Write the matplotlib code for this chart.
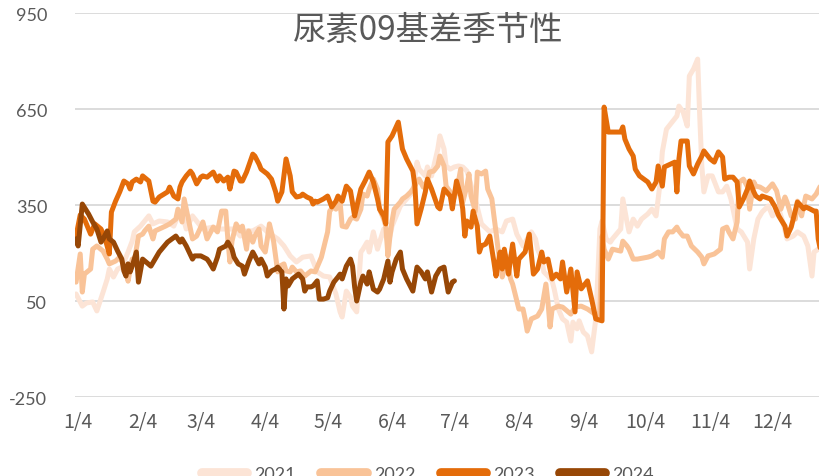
import datetime as dt
import matplotlib
matplotlib.use('agg')
import matplotlib.pyplot as plt

plt.rcParams['axes.unicode_minus'] = False

# days are day-of-year, values are the basis (yuan/t)
days_2021 = [3, 6, 8, 11, 13, 16, 18, 19, 21, 23, 25, 28, 30, 31, 34, 36, 38, 40, 43, 47,
             50, 52, 54, 56, 59, 64, 69, 72, 76, 79, 82, 85, 88, 92, 95, 100, 103, 106, 109, 112,
             116, 119, 122, 125, 128, 130, 131, 133, 135, 136, 138, 140, 141, 143, 144, 146, 148, 149, 151, 153,
             154, 155, 157, 159, 162, 165, 167, 168, 171, 172, 174, 177, 178, 180, 181, 183, 185, 187, 189, 191,
             195, 198, 202, 205, 208, 210, 213, 215, 218, 220, 222, 224, 225, 227, 228, 230, 232, 233, 235, 237,
             239, 241, 242, 244, 245, 247, 249, 251, 253, 255, 256, 258, 260, 261, 265, 266, 268, 269, 271, 273,
             275, 278, 280, 282, 284, 285, 287, 292, 293, 295, 297, 298, 300, 302, 303, 304, 305, 307, 309, 312,
             314, 316, 318, 321, 323, 326, 327, 329, 331, 333, 336, 338, 341, 343, 345, 348, 350, 353, 355, 357,
             358, 360, 361]
vals_2021 = [72, 34, 44, 47, 19, 78, 119, 150, 125, 150, 156, 203, 237, 266, 284, 300, 316, 291, 300, 297,
             284, 316, 322, 275, 316, 275, 281, 275, 275, 275, 253, 269, 269, 284, 266, 244, 222, 191, 172, 187,
             191, 141, 128, 125, 72, 16, 0, 81, 62, 34, 16, 203, 212, 234, 203, 266, 212, 234, 275, 234,
             253, 284, 316, 347, 369, 391, 484, 462, 441, 469, 441, 525, 566, 525, 472, 462, 469, 472, 469, 456,
             369, 291, 266, 275, 266, 300, 306, 259, 222, 244, 266, 244, 212, 181, 141, 128, 112, 87, 25, -6,
             -16, -75, -16, -37, -12, -47, -59, -109, -6, 275, 300, 244, 234, 244, 275, 369, 297, 266, 306, 284,
             306, 322, 337, 316, 422, 516, 587, 628, 659, 641, 597, 753, 775, 806, 628, 472, 391, 441, 441, 391,
             391, 409, 369, 275, 266, 234, 150, 244, 306, 328, 347, 316, 337, 297, 244, 253, 266, 253, 222, 128,
             203, 212, 219]

days_2022 = [3, 5, 6, 7, 10, 11, 13, 16, 18, 19, 22, 24, 27, 28, 30, 31, 33, 35, 36, 38,
             40, 41, 43, 46, 48, 51, 52, 54, 55, 57, 59, 61, 63, 64, 66, 69, 71, 73, 75, 76,
             77, 78, 80, 82, 83, 85, 86, 88, 89, 91, 92, 94, 95, 96, 98, 100, 101, 103, 104, 106,
             107, 109, 111, 113, 116, 118, 121, 124, 125, 127, 128, 130, 131, 133, 135, 136, 138, 140, 141, 143,
             144, 146, 148, 149, 151, 152, 153, 154, 155, 156, 159, 160, 162, 164, 165, 167, 168, 170, 172, 173,
             175, 177, 178, 180, 181, 183, 184, 186, 188, 189, 191, 192, 193, 195, 196, 198, 200, 201, 203, 204,
             205, 206, 208, 209, 210, 212, 213, 216, 218, 219, 220, 222, 225, 227, 229, 230, 231, 232, 235, 237,
             241, 243, 246, 249, 251, 254, 255, 256, 257, 259, 261, 265, 266, 268, 269, 271, 273, 278, 280, 283,
             285, 286, 288, 290, 292, 293, 295, 297, 299, 302, 304, 305, 307, 310, 313, 314, 316, 317, 319, 321,
             322, 324, 326, 327, 329, 330, 332, 335, 338, 340, 342, 344, 345, 347, 349, 350, 352, 354, 357, 359,
             361]
vals_2022 = [109, 197, 78, 134, 150, 212, 222, 206, 181, 166, 175, 187, 150, 112, 181, 172, 253, 259, 269, 284,
             244, 269, 275, 284, 291, 306, 337, 297, 369, 306, 244, 253, 281, 297, 244, 281, 266, 331, 331, 244,
             172, 237, 291, 269, 284, 212, 269, 234, 253, 275, 222, 203, 244, 291, 237, 141, 159, 166, 144, 141,
             156, 141, 144, 128, 144, 141, 187, 266, 331, 347, 337, 359, 284, 281, 306, 312, 306, 337, 384, 378,
             400, 431, 400, 337, 306, 284, 191, 253, 300, 337, 359, 369, 378, 391, 400, 422, 431, 406, 425, 453,
             456, 472, 503, 472, 409, 391, 359, 391, 462, 359, 409, 447, 378, 331, 453, 447, 456, 400, 369, 316,
             266, 212, 125, 150, 191, 119, 103, 25, 25, -6, -44, -6, 3, 25, 103, 47, -31, 25, 34, 31,
             9, 31, 34, 25, 16, 3, 19, 253, 212, 181, 212, 206, 237, 222, 212, 181, 181, 187, 191, 203,
             187, 244, 266, 266, 281, 269, 253, 253, 222, 203, 187, 166, 191, 197, 212, 275, 281, 266, 244, 297,
             422, 431, 406, 337, 422, 409, 406, 394, 416, 394, 337, 375, 359, 316, 306, 362, 316, 378, 369, 384,
             409]

days_2023 = [3, 5, 7, 10, 12, 15, 17, 19, 20, 22, 24, 26, 28, 29, 30, 32, 34, 35, 38, 40,
             41, 43, 47, 48, 50, 52, 53, 54, 56, 58, 59, 61, 63, 64, 66, 69, 71, 72, 74, 76,
             77, 79, 80, 82, 83, 85, 88, 89, 91, 92, 95, 97, 99, 100, 102, 104, 106, 107, 109, 111,
             112, 114, 116, 117, 118, 119, 122, 124, 126, 128, 129, 131, 133, 135, 137, 140, 142, 144, 146, 148,
             149, 151, 152, 153, 155, 158, 160, 162, 165, 166, 167, 169, 171, 172, 174, 177, 178, 180, 183, 184,
             186, 188, 189, 190, 191, 193, 194, 196, 197, 198, 200, 202, 204, 205, 207, 208, 209, 211, 213, 215,
             216, 219, 221, 223, 225, 227, 228, 230, 232, 234, 236, 237, 239, 241, 243, 244, 246, 249, 251, 253,
             256, 257, 259, 265, 266, 267, 269, 271, 272, 274, 278, 280, 282, 283, 285, 286, 289, 291, 292, 293,
             294, 297, 298, 300, 302, 304, 305, 308, 310, 312, 314, 315, 317, 319, 321, 322, 324, 326, 327, 329,
             330, 332, 333, 337, 339, 341, 344, 345, 347, 350, 351, 353, 354, 356, 358, 359, 360, 361]
vals_2023 = [253, 319, 306, 259, 291, 275, 244, 197, 328, 362, 391, 425, 416, 400, 422, 431, 422, 441, 425, 362,
             359, 375, 391, 406, 378, 369, 406, 422, 441, 456, 447, 416, 437, 441, 437, 453, 425, 441, 425, 437,
             400, 456, 453, 425, 425, 453, 509, 503, 478, 462, 447, 431, 391, 362, 391, 494, 441, 391, 375, 378,
             384, 375, 369, 353, 362, 359, 369, 378, 344, 362, 378, 362, 409, 394, 316, 400, 425, 453, 422, 369,
             337, 316, 291, 547, 566, 609, 525, 494, 456, 409, 291, 338, 391, 431, 400, 344, 338, 400, 378, 338,
             425, 378, 338, 253, 300, 281, 331, 284, 203, 222, 228, 253, 172, 128, 203, 150, 212, 134, 228, 128,
             181, 203, 259, 134, 150, 203, 172, 181, 119, 134, 119, 172, 78, 150, 16, 141, 88, 113, 56, -6,
             -12, 656, 578, 578, 594, 556, 525, 503, 462, 441, 422, 400, 422, 472, 409, 469, 478, 484, 391, 494,
             550, 550, 472, 447, 478, 503, 519, 494, 484, 516, 500, 431, 437, 437, 422, 344, 369, 400, 425, 391,
             378, 369, 378, 369, 347, 316, 284, 253, 281, 359, 353, 338, 344, 338, 331, 331, 244, 212]

days_2024 = [3, 4, 6, 9, 11, 13, 15, 16, 18, 19, 21, 23, 25, 26, 27, 28, 29, 30, 32, 33,
             35, 39, 43, 47, 51, 53, 54, 56, 59, 60, 63, 66, 67, 69, 71, 72, 75, 76, 78, 79,
             81, 83, 84, 86, 88, 89, 91, 92, 94, 95, 97, 99, 100, 102, 103, 104, 105, 107, 110, 112,
             113, 114, 116, 117, 119, 120, 122, 124, 125, 127, 129, 130, 131, 133, 135, 136, 137, 138, 140, 141,
             143, 144, 146, 148, 149, 151, 153, 154, 155, 157, 159, 160, 162, 165, 166, 167, 169, 171, 172, 174,
             176, 178, 180, 182, 184, 185]
vals_2024 = [244, 222, 353, 322, 297, 275, 234, 244, 269, 244, 234, 206, 181, 144, 128, 166, 141, 159, 203, 109,
             181, 159, 203, 234, 253, 234, 244, 222, 181, 191, 191, 181, 172, 150, 187, 212, 222, 234, 212, 187,
             166, 159, 134, 172, 203, 191, 166, 181, 156, 128, 144, 150, 156, 141, 25, 119, 97, 119, 134, 119,
             81, 94, 94, 97, 113, 56, 56, 60, 81, 109, 125, 134, 119, 159, 181, 159, 94, 50, 109, 128,
             103, 141, 87, 78, 87, 119, 175, 109, 141, 181, 203, 150, 119, 81, 119, 156, 141, 119, 141, 78,
             128, 150, 156, 78, 109, 113]

years = ['2021', '2022', '2023', '2024']
colors = ['#FCE4D6', '#F9C398', '#E46C0A', '#974706']
tick_labels = ['%d/4' % m for m in range(1, 13)]
tick_days = [dt.date(2023, m, 4).timetuple().tm_yday for m in range(1, 13)]

fig = plt.figure(figsize=(8.2, 4.77), dpi=100)
ax = fig.add_axes([0.0915, 0.1656, 0.918, 0.805])

series = [(days_2021, vals_2021), (days_2022, vals_2022), (days_2023, vals_2023), (days_2024, vals_2024)]
for (d, v), yr, c in zip(series, years, colors):
    ax.plot(d, v, color=c, lw=3.6, label=yr, solid_joinstyle='round', solid_capstyle='round')

ax.set_ylim(-250, 950)
ax.set_yticks([-250, 50, 350, 650, 950])
ax.set_xlim(2.5, 364.6)
ax.set_xticks(tick_days)
ax.set_xticklabels(tick_labels, family=['Noto Sans CJK SC', 'DejaVu Sans'])
ax.grid(axis='y', color='#D9D9D9', lw=1.3)
ax.set_axisbelow(True)
for s in ax.spines.values():
    s.set_visible(False)
ax.tick_params(axis='both', length=0, colors='#595959')
ax.tick_params(axis='x', labelsize=14, pad=10)
ax.tick_params(axis='y', labelsize=13, pad=20)
for t in ax.get_yticklabels():
    t.set_family('Lato')

fig.text(0.522, 0.937, '尿素09基差季节性', ha='center', va='center', fontsize=24,
         color='#595959', family=['Noto Sans CJK SC', 'DejaVu Sans'])

leg = fig.legend(loc='center', bbox_to_anchor=(0.522, 0.004), ncol=4, frameon=False,
                 fontsize=13, handlelength=2.5, columnspacing=1.4, handletextpad=0.4)
for h in leg.get_lines():
    h.set_linewidth(7)
for t in leg.get_texts():
    t.set_color('#595959')
    t.set_family('Lato')

fig.savefig('out.png', dpi=100)
